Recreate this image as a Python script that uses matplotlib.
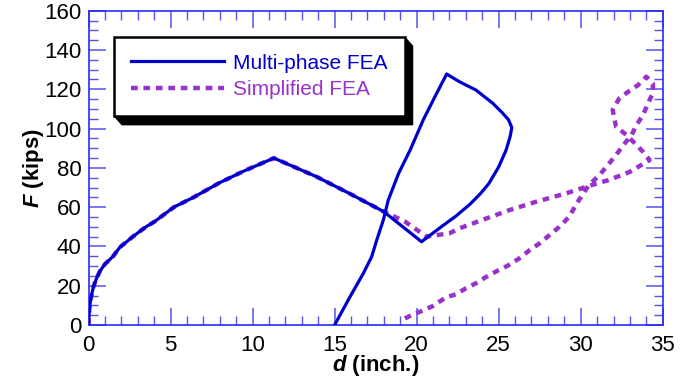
import matplotlib
matplotlib.use("Agg")
import matplotlib.pyplot as plt
from matplotlib.patches import Polygon
from matplotlib.ticker import MultipleLocator

plt.rcParams['font.family'] = ['Liberation Sans', 'DejaVu Sans']
plt.rcParams['mathtext.fontset'] = 'custom'
plt.rcParams['mathtext.bfit'] = 'Liberation Sans:italic:bold'
plt.rcParams['mathtext.rm'] = 'Liberation Sans'

# Multi-phase FEA
multi_d = [0, 0.05, 0.15, 0.3, 0.5, 0.7, 1.0, 1.5, 1.9, 2.7, 3.5, 4.0, 5.2, 6.4, 8.0, 9.5,
           11.3, 13.9, 15.9, 18.0, 20.3, 21.5, 22.4, 23.25, 23.9, 24.4, 25.0, 25.45, 25.7,
           25.8, 25.6, 25.25, 24.64, 23.62, 22.6, 21.83, 21.1, 20.4, 19.6, 18.9, 18.27,
           17.97, 17.57, 17.26, 16.75, 15.94, 15.0]
multi_F = [0, 8, 14, 19.5, 24, 27.5, 31, 35, 39.5, 45, 50, 52.5, 60, 65, 72.5, 78.5,
           85, 75.5, 67, 57.7, 42.4, 50, 55.5, 61.5, 67, 72, 80.5, 89, 96,
           100.5, 104.5, 107.8, 112.9, 119.6, 123.9, 127.8, 116, 104.4, 89, 77.2, 63.6,
           53.5, 43.3, 34.8, 26.3, 14.4, 0]

# Simplified FEA
simp_d = [0, 0.05, 0.15, 0.3, 0.5, 0.7, 1.0, 1.5, 1.9, 2.7, 3.5, 4.0, 5.2, 6.4, 8.0, 9.5,
          11.3, 13.9, 15.9, 18.0, 19.3, 20.6, 22.0, 22.6, 24.0, 25.65, 27.3, 29.1, 30.5,
          31.7, 33.0, 34.2, 33.8, 33.3, 32.8, 32.15, 31.95, 32.35, 32.9, 33.5, 34.0, 34.4,
          34.4, 34.1, 33.8, 33.4, 33.1, 32.6, 32.15, 31.65, 31.15, 30.5, 30.1, 29.7, 29.3,
          28.7, 28.1, 27.5, 26.9, 26.2, 25.55, 24.9, 24.2, 23.6, 23.0, 22.4, 21.8, 21.0,
          20.3, 19.7, 19.1]
simp_F = [0, 8, 14, 19.5, 24, 27.5, 31, 35, 39.5, 45, 50, 52.5, 60, 65, 72.5, 78.5,
          85, 75.5, 67, 57.7, 52.6, 45, 46.7, 49.2, 53.5, 58.5, 62.8, 67, 70.8,
          73.8, 78, 84, 88.2, 92.5, 96.7, 101, 109.5, 115.4, 118.8, 122.2, 126.4, 123,
          118, 112.9, 106.9, 101.8, 96.7, 91.6, 86.5, 81.4, 76.4, 71.3, 66.2, 61.1, 55.1,
          50, 45.8, 41.6, 38.2, 33.6, 30.2, 27.5, 24.3, 21.2, 18.7, 15.6, 14.2, 9.7,
          7.1, 5.1, 2.5]

fig = plt.figure(figsize=(6.96, 3.80), dpi=100)
ax = fig.add_axes([0.1272, 0.1447, 0.825, 0.827])

ax.plot(multi_d, multi_F, color='#0000CD', lw=2.3, label='Multi-phase FEA', zorder=3)
ax.plot(simp_d, simp_F, color='#9932CC', lw=3.2, dashes=(1.5, 1.3),
        label='Simplified FEA', zorder=2)

ax.set_xlim(0, 35)
ax.set_ylim(0, 160)
ax.xaxis.set_major_locator(MultipleLocator(5))
ax.xaxis.set_minor_locator(MultipleLocator(1))
ax.yaxis.set_major_locator(MultipleLocator(20))
ax.yaxis.set_minor_locator(MultipleLocator(5))
ax.tick_params(which='both', direction='in', top=True, right=True, color='#5555ee',
               labelsize=16, labelcolor='black')
ax.tick_params(which='major', length=12, width=1.1)
ax.tick_params(which='minor', length=6.5, width=1.0)
ax.tick_params(axis='x', pad=7)
ax.tick_params(axis='y', pad=5)
for s in ax.spines.values():
    s.set_color('#2a2aff')
    s.set_linewidth(1.2)

ax.set_xlabel(r'$\mathbfit{d}$ (inch.)', fontsize=16, fontweight='bold', labelpad=-2)
ax.set_ylabel(r'$\mathbfit{F}$ (kips)', fontsize=16, fontweight='bold', labelpad=-1)

leg = ax.legend(loc='upper left', bbox_to_anchor=(0.0444, 0.9163), borderaxespad=0,
                fontsize=15, labelcolor='linecolor', fancybox=False, framealpha=1,
                edgecolor='black', handlelength=4.5, handletextpad=0.43,
                borderpad=0.8, labelspacing=0.35)
leg.get_frame().set_linewidth(1.8)

# extruded black shadow behind the legend box
fig.canvas.draw()
bb = leg.get_window_extent()
dx, dy = 8, 9
pts = [(bb.x0, bb.y0), (bb.x0 + dx, bb.y0 - dy), (bb.x1 + dx, bb.y0 - dy),
       (bb.x1 + dx, bb.y1 - dy), (bb.x1, bb.y1), (bb.x1, bb.y0)]
pts = ax.transAxes.inverted().transform(pts)
ax.add_patch(Polygon(pts, closed=True, transform=ax.transAxes, facecolor='black',
                     edgecolor='black', zorder=4.9, clip_on=False))

fig.savefig('out.png', dpi=100)
plt.close(fig)
